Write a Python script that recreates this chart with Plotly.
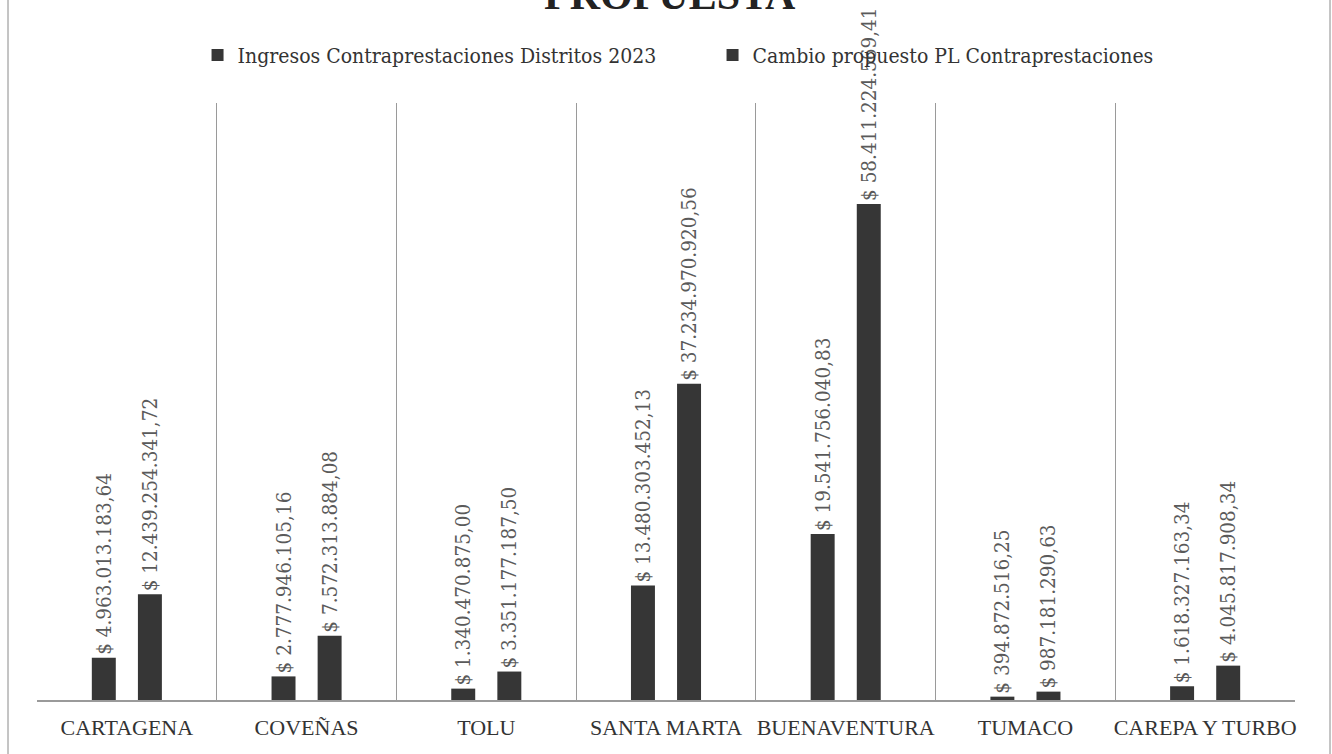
import plotly.graph_objects as go

categories = ["CARTAGENA", "COVEÑAS", "TOLU", "SANTA MARTA", "BUENAVENTURA", "TUMACO", "CAREPA Y TURBO"]
ingresos_2023 = [4963013183.64, 2777946105.16, 1340470875.00, 13480303452.13, 19541756040.83, 394872516.25, 1618327163.34]
cambio_propuesto = [12439254341.72, 7572313884.08, 3351177187.50, 37234970920.56, 58411224569.41, 987181290.63, 4045817908.34]
series_names = ["Ingresos Contraprestaciones Distritos 2023", "Cambio propuesto PL Contraprestaciones"]
title_text = "PROPUESTA"


def fmt(v):
    s = f"{v:,.2f}"
    s = s.replace(",", "X").replace(".", ",").replace("X", ".")
    return "$ " + s


BAR = "#363636"
LABEL_FONT = dict(family="DejaVu Serif Condensed", size=20.5, color="#5a5a5a")

fig = go.Figure()
for name, vals in zip(series_names, [ingresos_2023, cambio_propuesto]):
    fig.add_trace(go.Bar(
        name=name, x=categories, y=vals,
        marker=dict(color=BAR, line=dict(width=0)),
        text=[fmt(v) for v in vals], textposition="outside", textangle=-90,
        textfont=LABEL_FONT, constraintext="none", cliponaxis=False,
    ))

fig.update_layout(
    width=1332, height=754,
    margin=dict(l=37, r=37, t=103, b=54, autoexpand=False),
    paper_bgcolor="white", plot_bgcolor="white",
    barmode="group", bargap=0.487, bargroupgap=0.48,
    font=dict(family="Liberation Serif", color="#333333"),
    legend=dict(orientation="h", x=0.537, xanchor="center", y=1.08, yanchor="middle",
                font=dict(family="DejaVu Serif Condensed", size=21, color="#333333"),
                bgcolor="rgba(0,0,0,0)", entrywidth=470, itemwidth=30,
                traceorder="normal"),
    showlegend=True,
)
fig.update_xaxes(type="category", tickson="boundaries", showgrid=True, gridcolor="#9a9a9a", gridwidth=1,
                 showline=True, linecolor="#9a9a9a", linewidth=2, ticks="", ticklabelstandoff=7,
                 tickangle=0, automargin=False,
                 tickfont=dict(family="Liberation Serif", size=22, color="#333333"))
fig.update_yaxes(range=[0, 70.3e9], showgrid=False, showticklabels=False, zeroline=False, showline=False,
                 automargin=False)

fig.add_annotation(text="<b>" + title_text + "</b>", xref="paper", yref="paper", x=0.503, y=1.139,
                   xanchor="center", yanchor="bottom", showarrow=False,
                   font=dict(family="Liberation Serif", size=42, color="#222222"))

# outer frame lines of the scanned chart
for px in (8, 1330):
    xp = (px - 37) / 1258
    fig.add_shape(type="line", xref="paper", yref="paper", x0=xp, x1=xp, y0=-0.1, y1=1.2,
                  line=dict(color="#8a8a8a", width=1))

fig.write_html("out.html", config={"displayModeBar": False},
               post_script="document.body.style.margin='0';document.body.style.overflow='hidden';")
